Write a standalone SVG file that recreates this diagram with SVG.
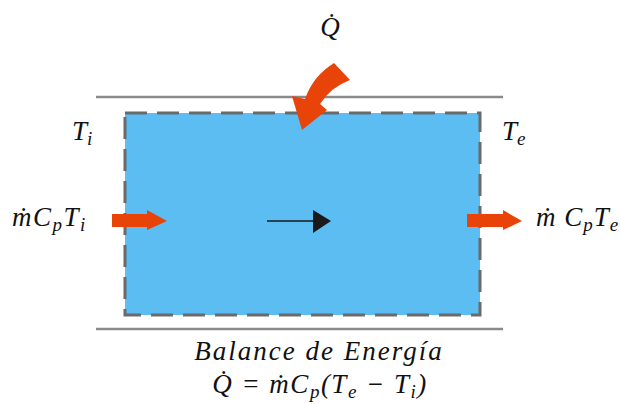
<svg xmlns="http://www.w3.org/2000/svg" width="620" height="404" viewBox="0 0 620 404">
<style>
.t{font-family:"Liberation Serif","DejaVu Serif",serif;font-style:italic;font-size:27px;fill:#111}
.s{font-size:19px}
.wall{stroke:#8a8a8a;stroke-width:2.5}
.orange{fill:#E8440A}
</style>
<rect width="620" height="404" fill="#fff"/>
<g id="walls">
<line class="wall" x1="96" y1="97" x2="503" y2="97"/>
<line class="wall" x1="96" y1="329" x2="503" y2="329"/>
</g>
<g id="control-volume">
<rect x="125" y="113" width="355" height="202" fill="#5BBDF2" stroke="#6a6a6a" stroke-width="3" stroke-dasharray="22 10"/>
</g>
<g id="connectors">
<line x1="267" y1="221" x2="313" y2="221" stroke="#1a1a1a" stroke-width="1.5"/>
<path d="M313,210 L313,233 L331,221 Z" fill="#1a1a1a"/>
<path class="orange" d="M112,214 L147,214 L147,210 L167,221 L147,230 L147,227 L112,227 Z"/>
<path class="orange" d="M467,214 L503,214 L503,210 L522,221 L503,230 L503,227 L467,227 Z"/>
<path class="orange" d="M334,63 L350,80 Q331,87 320,104 L327,110 L302,130 L292,96 L305,99 Q313,76 334,63 Z"/>
</g>
<g id="labels">
<text class="t" x="330" y="36" text-anchor="middle">Q̇</text>
<text class="t" x="72" y="140">T<tspan class="s" dy="5">i</tspan></text>
<text class="t" x="502" y="140">T<tspan class="s" dy="5">e</tspan></text>
<text class="t" x="12" y="226" letter-spacing="1.5">ṁC<tspan class="s" dy="5">p</tspan><tspan dy="-5">T</tspan><tspan class="s" dy="5">i</tspan></text>
<text class="t" x="536" y="226" letter-spacing="1">ṁ C<tspan class="s" dy="5">p</tspan><tspan dy="-5">T</tspan><tspan class="s" dy="5">e</tspan></text>
<text class="t" x="319" y="360" text-anchor="middle" letter-spacing="2" font-size="25">Balance de Energía</text>
<text class="t" x="320" y="393" text-anchor="middle" letter-spacing="1.5">Q̇ = ṁC<tspan class="s" dy="5">p</tspan><tspan dy="-5">(T</tspan><tspan class="s" dy="5">e</tspan><tspan dy="-5"> − T</tspan><tspan class="s" dy="5">i</tspan><tspan dy="-5">)</tspan></text>
</g>
</svg>
